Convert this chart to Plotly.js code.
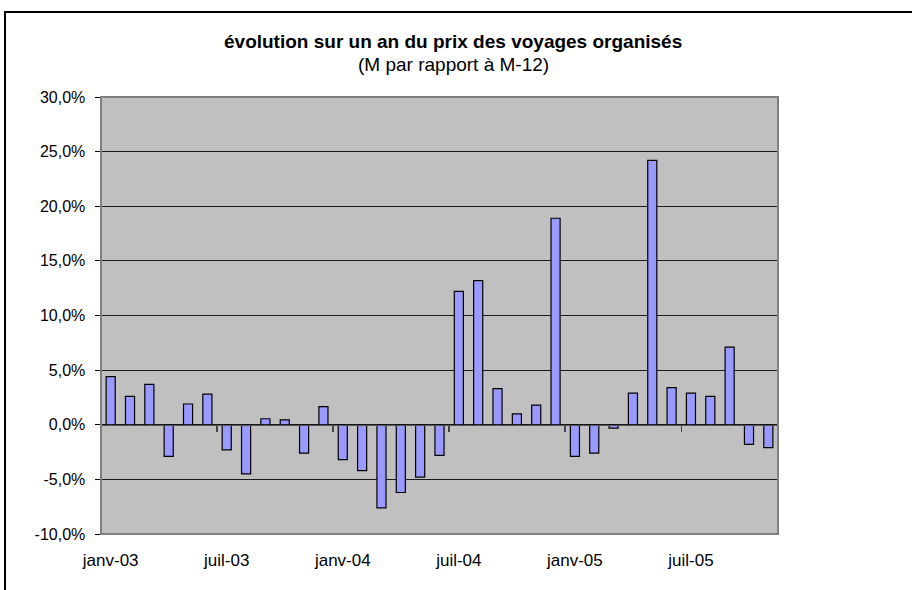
<!DOCTYPE html>
<html>
<head>
<meta charset="utf-8">
<script src="https://cdn.plot.ly/plotly-3.0.1.min.js"></script>
<style>
  body { margin: 0; background: #fff; }
  #chart { position: absolute; left: 0; top: 0; width: 912px; height: 590px; }
  #frame { position: absolute; left: 4px; top: 11px; width: 920px; height: 600px;
           border-left: 2px solid #000; border-top: 2px solid #000; pointer-events: none; }
</style>
</head>
<body>
<div id="chart"></div>
<div id="frame"></div>
<script>
// month abbreviations and years used for the category labels
var month_names = ["janv", "févr", "mars", "avr", "mai", "juin",
                   "juil", "août", "sept", "oct", "nov", "déc"];
var years = ["03", "04", "05"];

// year-on-year change (%), janv-03 .. nov-05
var evolution = [
    4.4, 2.6, 3.7, -2.9, 1.9, 2.8, -2.3, -4.5, 0.55, 0.45, -2.6, 1.65,
    -3.2, -4.2, -7.6, -6.2, -4.8, -2.8, 12.2, 13.2, 3.3, 1.0, 1.8, 18.9,
    -2.9, -2.6, -0.3, 2.9, 24.2, 3.4, 2.9, 2.6, 7.1, -1.8, -2.1
];

var y_ticks = [-10, -5, 0, 5, 10, 15, 20, 25, 30];
var y_labels = ['-10,0%', '-5,0%', '0,0%', '5,0%', '10,0%', '15,0%', '20,0%', '25,0%', '30,0%'];

var title_text = "évolution sur un an du prix des voyages organisés";
var subtitle_text = "(M par rapport à M-12)";

var months = [];
for (let y = 0; y < years.length; y++) {
    for (let m = 0; m < month_names.length; m++) {
        if (months.length < evolution.length) {
            months.push(month_names[m] + "-" + years[y]);
        }
    }
}

// one label every 6 months, tick marks on the boundaries before them
var label_months = [];
var boundaries = [];
var month_index = [];
for (let i = 0; i < months.length; i++) {
    month_index.push(i);
    if (i % 6 == 0) {
	label_months.push(months[i]);
	boundaries.push(i - 0.5);
    }
}

var bars = {
    type: 'bar',
    x: months,
    y: evolution,
    marker: { color: '#9999FF', line: { color: '#000000', width: 1.2 } },
    hoverinfo: 'x+y'
};

// invisible copy on the second x axis, only there to draw the axis at 0
var zero_axis = {
    type: 'scatter',
    mode: 'markers',
    x: month_index,
    y: evolution,
    xaxis: 'x2',
    marker: { opacity: 0 },
    hoverinfo: 'skip'
};

var font = "Liberation Sans, Arial, sans-serif";

var layout = {
    width: 912,
    height: 590,
    margin: { l: 101, r: 134, t: 97, b: 56 },
    paper_bgcolor: '#ffffff',
    plot_bgcolor: '#C0C0C0',
    font: { family: font, size: 16, color: '#000' },
    showlegend: false,
    bargap: 0.53,
    annotations: [
	{ text: "<b>" + title_text + "</b>", xref: 'paper', yref: 'paper',
	  x: 0.52, y: 1.127, xanchor: 'center', yanchor: 'middle', showarrow: false,
	  font: { family: font, size: 19, color: '#000' } },
	{ text: subtitle_text, xref: 'paper', yref: 'paper',
	  x: 0.52, y: 1.0755, xanchor: 'center', yanchor: 'middle', showarrow: false,
	  font: { family: font, size: 19, color: '#000' } }
    ],
    xaxis: {
        type: 'category',
        range: [-0.5, months.length - 0.5],
        tickmode: 'array',
        tickvals: label_months,
        ticktext: label_months,
        ticks: '',
        showgrid: false,
        zeroline: false,
        showline: false,
        ticklabelstandoff: 14,
        tickfont: { size: 17 }
    },
    xaxis2: {
        overlaying: 'x',
        anchor: 'free',
        position: 0.25,
        type: 'linear',
        range: [-0.5, months.length - 0.5],
        tickmode: 'array',
        tickvals: boundaries,
        ticks: 'outside',
        ticklen: 6,
        tickcolor: '#444',
        tickwidth: 1.5,
        showticklabels: false,
        showgrid: false,
        zeroline: false,
        showline: true,
        linecolor: '#555',
        linewidth: 1.5
    },
    yaxis: {
        range: [-10, 30],
        tickmode: 'array',
        tickvals: y_ticks,
        ticktext: y_labels,
        ticks: 'outside',
        ticklen: 5,
        tickcolor: '#000',
        ticklabelstandoff: 6,
        showgrid: true,
        gridcolor: '#1a1a1a',
        gridwidth: 1,
        zeroline: false,
        showline: true,
        linecolor: '#333',
        linewidth: 1.5,
        tickfont: { size: 16 }
    },
    shapes: [{
        type: 'rect', xref: 'paper', yref: 'paper',
        x0: 0, x1: 1, y0: 0, y1: 1,
        line: { color: '#808080', width: 2 },
        layer: 'above'
    }]
};

Plotly.newPlot('chart', [bars, zero_axis], layout, { displayModeBar: false, staticPlot: true });
</script>
</body>
</html>
